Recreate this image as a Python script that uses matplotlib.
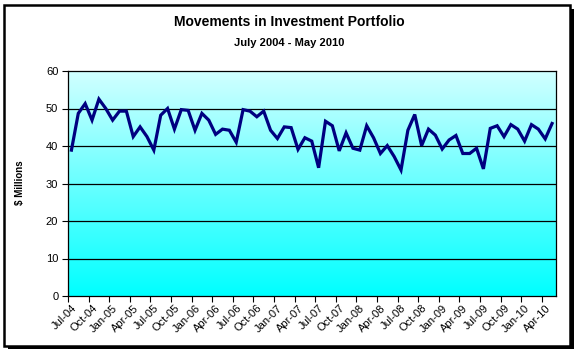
import numpy as np
import matplotlib
matplotlib.use("Agg")
from matplotlib import pyplot as plt
from matplotlib.patches import Rectangle

plt.rcParams['font.family'] = ['Liberation Sans', 'DejaVu Sans']

# monthly values, Jul-04 .. May-10 ($ millions)
values = [38.9, 48.7, 51.3, 46.9, 52.5, 50.0, 46.9, 49.3, 49.3, 42.5,
          45.1, 42.5, 38.9, 48.2, 50.0, 44.5, 49.7, 49.5, 44.2, 48.7,
          46.9, 43.1, 44.5, 44.2, 41.0, 49.7, 49.3, 47.8, 49.3, 44.2,
          42.0, 45.1, 44.9, 39.1, 42.2, 41.3, 34.2, 46.6, 45.4, 38.7,
          43.5, 39.4, 38.9, 45.4, 42.2, 38.0, 40.1, 37.2, 33.6, 44.2,
          48.4, 40.1, 44.5, 42.9, 39.2, 41.6, 42.8, 38.0, 38.0, 39.4,
          33.9, 44.7, 45.4, 42.5, 45.7, 44.5, 41.3, 45.7, 44.5, 41.9,
          46.0]

tick_labels = ['Jul-04', 'Oct-04', 'Jan-05', 'Apr-05', 'Jul-05', 'Oct-05',
               'Jan-06', 'Apr-06', 'Jul-06', 'Oct-06', 'Jan-07', 'Apr-07',
               'Jul-07', 'Oct-07', 'Jan-08', 'Apr-08', 'Jul-08', 'Oct-08',
               'Jan-09', 'Apr-09', 'Jul-09', 'Oct-09', 'Jan-10', 'Apr-10']

y_ticks = [0, 10, 20, 30, 40, 50, 60]

W, H = 579, 353
fig = plt.figure(figsize=(W / 100, H / 100), dpi=100)

# chart frame with shadow
fig.patches.append(Rectangle((8 / W, 4 / H), 566 / W, 340 / H, transform=fig.transFigure,
                             facecolor='black', edgecolor='none', zorder=0))
fig.patches.append(Rectangle((4 / W, 7 / H), 566 / W, 341 / H, transform=fig.transFigure,
                             facecolor='white', edgecolor='black', linewidth=1.8, zorder=1))

ax = fig.add_axes([68 / W, (H - 296) / H, 487.5 / W, 225 / H])
ax.set_zorder(2)

# gradient fill of the plot area
grad = np.linspace(0, 1, 256).reshape(-1, 1)
top = np.array([0.82, 1.0, 1.0])
bottom = np.array([0.0, 1.0, 1.0])
img = grad[:, :, None] * top + (1 - grad[:, :, None]) * bottom
ax.imshow(img, extent=[0, 1, 0, 1], transform=ax.transAxes, origin='lower',
          aspect='auto', zorder=0)

n = len(values)
x = np.arange(n)
ax.plot(x, values, color='#000080', linewidth=2.3, zorder=3, solid_joinstyle='miter')

ax.set_xlim(-0.5, n - 0.5)
ax.set_ylim(0, 60)

ax.set_yticks(y_ticks)
ax.set_yticklabels([str(v) for v in y_ticks], fontsize=8)
for v in y_ticks[1:-1]:
    ax.axhline(v, color='black', linewidth=0.9, zorder=1)

ax.set_xticks(x[::3])
ax.set_xticklabels(tick_labels, rotation=45, ha='right', va='top',
                   rotation_mode='anchor', fontsize=8)
ax.tick_params(axis='x', which='major', length=0, pad=5)
ax.set_xticks(np.arange(-0.5, n, 3), minor=True)
ax.tick_params(axis='x', which='minor', length=4, direction='out', width=0.8)
ax.tick_params(axis='y', length=4, direction='out', width=0.8, pad=3)

for s in ax.spines.values():
    s.set_color('black')
    s.set_linewidth(0.9)

fig.text(0.5, (H - 22) / H, 'Movements in Investment Portfolio', ha='center', va='center',
         fontsize=10, fontweight='bold', zorder=3)
fig.text(0.5, (H - 43) / H, 'July 2004 - May 2010', ha='center', va='center',
         fontsize=8, fontweight='bold', zorder=3)
fig.text(20 / W, (H - 183) / H, '$ Millions', rotation=90, ha='center', va='center',
         fontsize=7, fontweight='bold', zorder=3)

fig.savefig('out.png', dpi=100)
